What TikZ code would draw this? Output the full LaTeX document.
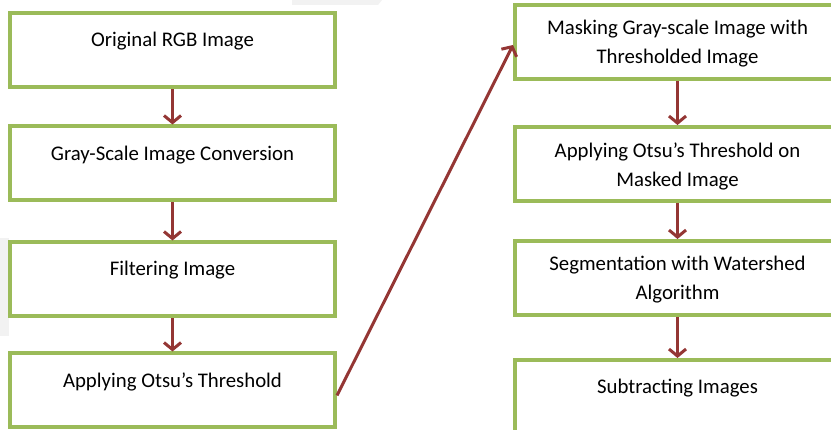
\documentclass[tikz,border=0pt]{standalone}
\usepackage{fontspec}
\setmainfont{Carlito}
\usetikzlibrary{arrows.meta}
\definecolor{boxgreen}{HTML}{9BBB59}
\definecolor{arrowred}{HTML}{943634}
\definecolor{bggray}{HTML}{F2F2F2}
\begin{document}
\begin{tikzpicture}[x=1pt,y=-1pt,
  stepbox/.style={draw=boxgreen,line width=4pt,fill=white,minimum width=325pt,minimum height=74pt,inner sep=0pt},
  lbl/.style={font=\fontsize{20.8}{29}\selectfont,align=center,inner sep=0pt,text=black},
  conn/.style={draw=arrowred,line width=3pt,-{Straight Barb[length=7pt,width=17pt,line width=3pt]}}]
\useasboundingbox (0,0) rectangle (831,430);
\clip (0,0) rectangle (831,430);
\fill[white] (0,0) rectangle (831,430);
% faint slide background shapes
\fill[bggray] (292,0) -- (382,0) -- (378,5) -- (292,5) -- cycle;
\fill[bggray] (0,238) -- (9,238) -- (9,336) -- (0,336) -- cycle;
% left column
\node[stepbox] (b1) at (172.5,50) {};
\node[stepbox] (b2) at (172.5,163.5) {};
\node[stepbox] (b3) at (172.5,279.5) {};
\node[stepbox] (b4) at (172.5,390.5) {};
% right column
\node[stepbox] (b5) at (677.5,42) {};
\node[stepbox] (b6) at (677.5,164) {};
\node[stepbox] (b7) at (677.5,278) {};
\node[stepbox] (b8) at (677.5,397) {};
% labels
\node[lbl] (t1) at ([yshift=-30]b1.north) {Original RGB Image};
\node[lbl] (t2) at ([yshift=-31]b2.north) {Gray-Scale Image Conversion};
\node[lbl] (t3) at ([yshift=-30]b3.north) {Filtering Image};
\node[lbl] (t4) at ([yshift=-30]b4.north) {Applying Otsu’s Threshold};
\node[lbl] (t5) at ([yshift=-2]b5.center) {Masking Gray-scale Image with\\Thresholded Image};
\node[lbl] (t6) at ([yshift=-2]b6.center) {Applying Otsu’s Threshold on\\Masked Image};
\node[lbl] (t7) at ([yshift=-2]b7.center) {Segmentation with Watershed\\Algorithm};
\node[lbl] (t8) at ([yshift=-30]b8.north) {Subtracting Images};
% connectors
\draw[conn] (b1.south) -- (b2.north);
\draw[conn] (b2.south) -- (b3.north);
\draw[conn] (b3.south) -- (b4.north);
\draw[conn] ([yshift=-5]b4.east) -- ([yshift=-3]b5.west);
\draw[conn] (b5.south) -- (b6.north);
\draw[conn] (b6.south) -- (b7.north);
\draw[conn] (b7.south) -- (b8.north);
\end{tikzpicture}
\end{document}
